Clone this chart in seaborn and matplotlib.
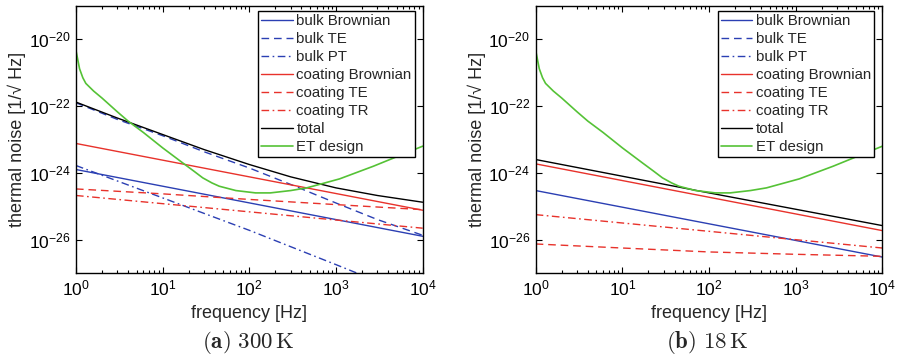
import numpy as np
import pandas as pd
import seaborn as sns
import matplotlib
matplotlib.use("Agg")
import matplotlib.pyplot as plt

# ---------------- DATA ----------------
# frequencies [Hz]
freq_line = [1, 1e4]
freq_five = [1, 10, 100, 1000, 1e4]
freq_nine = [1, 3, 10, 30, 100, 300, 1000, 3000, 1e4]
freq_et = [1, 1.1, 1.2, 1.3, 1.6, 2, 3, 4, 6, 10, 17, 23, 29, 37, 45, 70,
           118, 175, 300, 460, 1100, 2700, 1e4]

# ET design sensitivity (same in both panels)
et_design = [4.68e-21, 1.32e-21, 7.08e-22, 4.79e-22, 2.82e-22, 1.74e-22,
             6.76e-23, 3.55e-23, 1.62e-23, 5.62e-24, 2.0e-24, 1.12e-24,
             7.1e-25, 5.0e-25, 3.98e-25, 2.95e-25, 2.51e-25, 2.51e-25,
             2.95e-25, 3.55e-25, 6.6e-25, 1.58e-24, 6.3e-24]

# (a) 300 K
bulk_brownian_300 = [1.26e-24, 1.26e-26]
bulk_te_300 = [1.26e-22, 4.0e-23, 1.3e-23, 4.3e-24, 1.4e-24, 4.5e-25,
               1.25e-25, 4.0e-26, 1.35e-26]
bulk_pt_300 = [1.66e-24, 1.78e-25, 1.9e-26, 1.78e-27, 1.6e-28]
coating_brownian_300 = [7.6e-24, 7.6e-26]
coating_te_300 = [3.3e-25, 2.35e-25, 1.6e-25, 1.12e-25, 7.9e-26]
coating_tr_300 = [2.1e-25, 2.2e-26]
total_300 = [1.32e-22, 4.4e-23, 1.41e-23, 5.0e-24, 1.78e-24, 7.6e-25,
             3.55e-25, 2.1e-25, 1.32e-25]

# (b) 18 K  (bulk TE / PT lie below the plotted range)
bulk_brownian_18 = [2.95e-25, 3.0e-27]
bulk_te_18 = [1e-29, 1e-31]
bulk_pt_18 = [1e-29, 1e-32]
coating_brownian_18 = [1.86e-24, 1.86e-26]
coating_te_18 = [7.4e-27, 5.6e-27, 4.27e-27, 3.63e-27, 3.16e-27]
coating_tr_18 = [5.6e-26, 5.6e-27]
total_18 = [2.51e-24, 2.51e-25, 2.63e-26]
freq_total_18 = [1, 100, 1e4]

y_ticks = [1e-26, 1e-24, 1e-22, 1e-20]
captions = [r"$\mathbf{(a)}\ 300\,\mathrm{K}$", r"$\mathbf{(b)}\ 18\,\mathrm{K}$"]
# --------------------------------------

BLUE = "#2b3fb3"
RED = "#e8322b"
GREEN = "#55c236"
DASH = (0, (5.5, 3.5))
DASHDOT = (0, (5.5, 2.5, 1.2, 2.5))

sns.set_style("ticks")
plt.rcParams["font.family"] = ["Liberation Sans", "DejaVu Sans"]
plt.rcParams["mathtext.fontset"] = "custom"
plt.rcParams["mathtext.rm"] = "Liberation Sans"
plt.rcParams["mathtext.it"] = "Liberation Sans:italic"
plt.rcParams["mathtext.bf"] = "Liberation Sans:bold"

panels = [
    dict(bb=(freq_line, bulk_brownian_300), bte=(freq_nine, bulk_te_300),
         bpt=(freq_five, bulk_pt_300), cb=(freq_line, coating_brownian_300),
         cte=(freq_five, coating_te_300), ctr=(freq_line, coating_tr_300),
         tot=(freq_nine, total_300)),
    dict(bb=(freq_line, bulk_brownian_18), bte=(freq_line, bulk_te_18),
         bpt=(freq_line, bulk_pt_18), cb=(freq_line, coating_brownian_18),
         cte=(freq_five, coating_te_18), ctr=(freq_line, coating_tr_18),
         tot=(freq_total_18, total_18)),
]

styles = [
    ("bb", "bulk Brownian", BLUE, "-"),
    ("bte", "bulk TE", BLUE, DASH),
    ("bpt", "bulk PT", BLUE, DASHDOT),
    ("cb", "coating Brownian", RED, "-"),
    ("cte", "coating TE", RED, DASH),
    ("ctr", "coating TR", RED, DASHDOT),
    ("tot", "total", "black", "-"),
]

fig = plt.figure(figsize=(9, 3.61), dpi=100)
ax_lefts = [0.0844, 0.5952]
cap_x = [0.2756, 0.786]

for i, pdata in enumerate(panels):
    ax = fig.add_axes([ax_lefts[i], 0.2438, 0.3852, 0.7396])
    ax.set_xscale("log")
    ax.set_yscale("log")
    for key, label, color, ls in styles:
        fx, fy = pdata[key]
        sns.lineplot(x=fx, y=fy, ax=ax, color=color, linestyle=ls, lw=1.0,
                     label=label, estimator=None, sort=False)
    sns.lineplot(x=freq_et, y=et_design, ax=ax, color=GREEN, lw=1.2,
                 label="ET design", estimator=None, sort=False)

    ax.set_xlim(1, 1e4)
    ax.set_ylim(1e-27, 1e-19)
    ax.set_yticks(y_ticks)
    ax.yaxis.set_minor_locator(matplotlib.ticker.NullLocator())
    ax.tick_params(which="both", direction="in", top=True, right=True,
                   labelsize=12.5, width=0.8, colors="black")
    ax.tick_params(which="major", length=4, pad=4)
    ax.tick_params(which="minor", length=2.2)
    for s in ax.spines.values():
        s.set_linewidth(1.0)
        s.set_color("black")

    ax.set_xlabel("frequency [Hz]", fontsize=13, labelpad=5)
    ax.set_ylabel("thermal noise [1/\u221a Hz]", fontsize=13, labelpad=2)

    leg = ax.legend(loc="upper right", bbox_to_anchor=(0.977, 0.981),
                    fontsize=10.8, frameon=True, fancybox=False,
                    edgecolor="black", framealpha=1, borderpad=0.2,
                    labelspacing=0.27, handlelength=2.1, handletextpad=0.25,
                    borderaxespad=0)
    leg.get_frame().set_linewidth(1.0)

    fig.text(cap_x[i], 0.05, captions[i], ha="center", va="center",
             fontsize=16.5, math_fontfamily="cm")

plt.savefig("out.png", dpi=100)
plt.close()
